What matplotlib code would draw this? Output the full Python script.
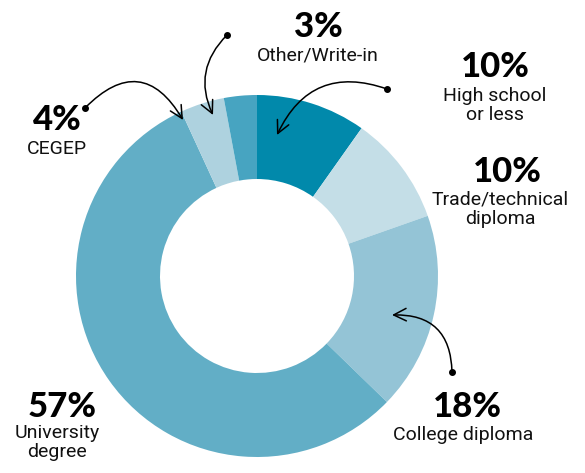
import matplotlib.pyplot as plt
from matplotlib.patches import FancyArrowPatch

# education levels, clockwise from 12 o'clock
labels = ["High school\nor less", "Trade/technical\ndiploma", "College diploma",
          "University\ndegree", "CEGEP", "Other/Write-in"]
values = [10, 10, 18, 57, 4, 3]
colors = ["#0189ab", "#c4dee7", "#94c4d6", "#62aec6", "#aed2df", "#47a4c1"]

W, H = 585, 473

fig = plt.figure(figsize=(W / 100, H / 100), dpi=100)
ax = fig.add_axes([0, 0, 1, 1])

cx, cy, R = 257, H - 276, 181
ax.pie(values, colors=colors, startangle=90, counterclock=False,
       center=(cx, cy), radius=R, frame=True,
       wedgeprops=dict(width=R - 97, linewidth=0))
ax.set_xlim(0, W)
ax.set_ylim(0, H)
ax.axis("off")

pct_font = dict(family="Lato", fontweight="black", fontsize=25, color="black")
lab_font = dict(family="Roboto", fontsize=14, color="#111111", linespacing=1.05)

# (percent x, percent y, label x, label y) in pixel coords from top
spots = [
    (495, 67, 495, 87),
    (507, 172, 500, 191),
    (467, 407, 463, 426),
    (62, 407, 57, 424),
    (57, 120, 57, 140),
    (318, 27, 318, 47),
]
for (px, py, lx, ly), lab, v in zip(spots, labels, values):
    ax.text(px, H - py, f"{v}%", ha="center", va="center", **pct_font)
    ax.text(lx, H - ly, lab, ha="center", va="top", **lab_font)

# curved pointer arrows: (start, tip, curvature)
arrows = [
    ((387, 89), (277, 135), 0.45),
    ((452, 372), (392, 315), 0.5),
    ((85, 108), (183, 120), -0.65),
    ((227, 35), (213, 115), 0.35),
]
for (x0, y0), (x1, y1), rad in arrows:
    ax.plot(x0, H - y0, "o", color="black", ms=4)
    ax.add_patch(FancyArrowPatch((x0, H - y0), (x1, H - y1),
                                 connectionstyle=f"arc3,rad={rad}",
                                 arrowstyle="->,head_length=9,head_width=4.5",
                                 color="black", lw=1.1, shrinkA=0, shrinkB=0))

fig.savefig("out.png", dpi=100)
